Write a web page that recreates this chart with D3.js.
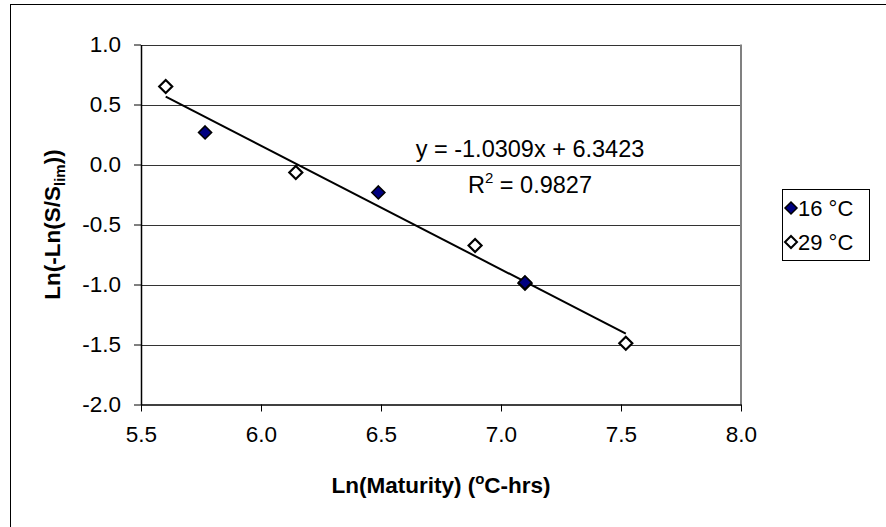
<!DOCTYPE html>
<html>
<head>
<meta charset="utf-8">
<script src="https://cdn.jsdelivr.net/npm/d3@7/dist/d3.min.js"></script>
<style>
  html, body { margin: 0; padding: 0; background: #fff; }
  svg { display: block; font-family: "Liberation Sans", Arial, sans-serif; }
</style>
</head>
<body>
<svg id="chart" width="886" height="527"></svg>
<script>
// Measured strength ratio vs. maturity, two curing temperatures
const series16Label = "16 °C";
const series16X = [5.767, 6.489, 7.100];
const series16Y = [0.267, -0.233, -0.983];

const series29Label = "29 °C";
const series29X = [5.603, 6.145, 6.892, 7.100, 7.520];
const series29Y = [0.650, -0.067, -0.675, -0.990, -1.490];

// Linear trendline fitted to all points
const fitSlope = -1.0309;
const fitIntercept = 6.3423;
const fitR2 = 0.9827;

const xTicks = [5.5, 6.0, 6.5, 7.0, 7.5, 8.0];
const yTicks = [1.0, 0.5, 0.0, -0.5, -1.0, -1.5, -2.0];

const svg = d3.select("#chart");
const W = 886, H = 527;
const plot = { left: 141, right: 741, top: 44.5, bottom: 404.5 };
const tickFont = 22.5;

// Chart frame
svg.append("rect")
  .attr("x", 10.5).attr("y", 4.5)
  .attr("width", W).attr("height", H)
  .attr("fill", "#fff").attr("stroke", "#000").attr("stroke-width", 1);

const x = d3.scaleLinear().domain([5.5, 8.0]).range([plot.left, plot.right]);
const y = d3.scaleLinear().domain([-2.0, 1.0]).range([plot.bottom, plot.top]);

// Horizontal gridlines
svg.append("g")
  .selectAll("line")
  .data(yTicks.filter(v => v > -2.0))
  .join("line")
  .attr("x1", plot.left).attr("x2", plot.right)
  .attr("y1", d => Math.round(y(d)) + 0.5).attr("y2", d => Math.round(y(d)) + 0.5)
  .attr("stroke", "#333").attr("stroke-width", 1);

// Right edge of plot area
svg.append("line")
  .attr("x1", plot.right).attr("x2", plot.right)
  .attr("y1", plot.top).attr("y2", plot.bottom)
  .attr("stroke", "#808080").attr("stroke-width", 2);

const fmt = d3.format(".1f");

// Y axis
const yAxis = svg.append("g")
  .attr("transform", `translate(${plot.left},0)`)
  .call(d3.axisLeft(y).tickValues(yTicks).tickFormat(d => fmt(d).replace("−", "-")).tickSizeInner(7).tickSizeOuter(0).tickPadding(13));
yAxis.select(".domain").attr("stroke", "#000").attr("stroke-width", 1.5);
yAxis.selectAll(".tick line").attr("stroke", "#000");
yAxis.selectAll(".tick text")
  .attr("font-size", tickFont).attr("fill", "#000")
  .attr("font-family", "Liberation Sans, Arial, sans-serif");

// X axis
const xAxis = svg.append("g")
  .attr("transform", `translate(0,${plot.bottom})`)
  .call(d3.axisBottom(x).tickValues(xTicks).tickFormat(fmt).tickSizeInner(7).tickSizeOuter(0).tickPadding(15));
xAxis.select(".domain").attr("stroke", "#000").attr("stroke-width", 1.5);
xAxis.selectAll(".tick line").attr("stroke", "#000");
xAxis.selectAll(".tick text")
  .attr("font-size", tickFont).attr("fill", "#000")
  .attr("font-family", "Liberation Sans, Arial, sans-serif");

// Trendline over the data range
const allX = series16X.concat(series29X);
const xMin = d3.min(allX), xMax = d3.max(allX);
svg.append("line")
  .attr("x1", x(xMin)).attr("y1", y(fitSlope * xMin + fitIntercept))
  .attr("x2", x(xMax)).attr("y2", y(fitSlope * xMax + fitIntercept))
  .attr("stroke", "#000").attr("stroke-width", 2);

function diamondPath(r) {
  return `M0,${-r}L${r},0L0,${r}L${-r},0Z`;
}

// 29 °C markers (open)
svg.append("g")
  .selectAll("path")
  .data(series29X.map((v, i) => [v, series29Y[i]]))
  .join("path")
  .attr("d", diamondPath(6.5))
  .attr("transform", d => `translate(${x(d[0])},${y(d[1])})`)
  .attr("fill", "#fff").attr("stroke", "#000").attr("stroke-width", 2.2);

// 16 °C markers (filled)
svg.append("g")
  .selectAll("path")
  .data(series16X.map((v, i) => [v, series16Y[i]]))
  .join("path")
  .attr("d", diamondPath(6.5))
  .attr("transform", d => `translate(${x(d[0])},${y(d[1])})`)
  .attr("fill", "#000080").attr("stroke", "#000").attr("stroke-width", 1.6);

// Trendline equation
const eq = svg.append("g").attr("font-size", 23.5).attr("fill", "#000");
eq.append("text")
  .attr("x", 530).attr("y", 157).attr("text-anchor", "middle")
  .text(`y = ${fitSlope.toFixed(4)}x + ${fitIntercept.toFixed(4)}`);
const r2 = eq.append("text")
  .attr("x", 530).attr("y", 193).attr("text-anchor", "middle");
r2.append("tspan").text("R");
r2.append("tspan").attr("dy", -10).attr("font-size", 15).text("2");
r2.append("tspan").attr("dy", 10).text(` = ${fitR2.toFixed(4)}`);

// Axis titles
const xt = svg.append("text")
  .attr("x", (plot.left + plot.right) / 2).attr("y", 493)
  .attr("text-anchor", "middle").attr("font-size", 22.5).attr("font-weight", "bold");
xt.append("tspan").text("Ln(Maturity) (");
xt.append("tspan").attr("dy", -9).attr("font-size", 15).text("o");
xt.append("tspan").attr("dy", 9).text("C-hrs)");

const yt = svg.append("text")
  .attr("transform", `translate(60,${(plot.top + plot.bottom) / 2}) rotate(-90)`)
  .attr("text-anchor", "middle").attr("font-size", 22.5).attr("font-weight", "bold");
yt.append("tspan").text("Ln(-Ln(S/S");
yt.append("tspan").attr("dy", 5).attr("font-size", 15).text("lim");
yt.append("tspan").attr("dy", -5).text("))");

// Legend
const legend = svg.append("g");
legend.append("rect")
  .attr("x", 782.5).attr("y", 189.5).attr("width", 87).attr("height", 71)
  .attr("fill", "#fff").attr("stroke", "#000").attr("stroke-width", 1);
const legendItems = [
  { label: series16Label, fill: "#000080", sw: 1.5 },
  { label: series29Label, fill: "#fff", sw: 2 }
];
legendItems.forEach((d, i) => {
  const cy = 208 + i * 34;
  legend.append("path")
    .attr("d", diamondPath(6))
    .attr("transform", `translate(791,${cy})`)
    .attr("fill", d.fill).attr("stroke", "#000").attr("stroke-width", d.sw);
  legend.append("text")
    .attr("x", 798).attr("y", cy + 8)
    .attr("font-size", 22).attr("fill", "#000")
    .text(d.label);
});
</script>
</body>
</html>
